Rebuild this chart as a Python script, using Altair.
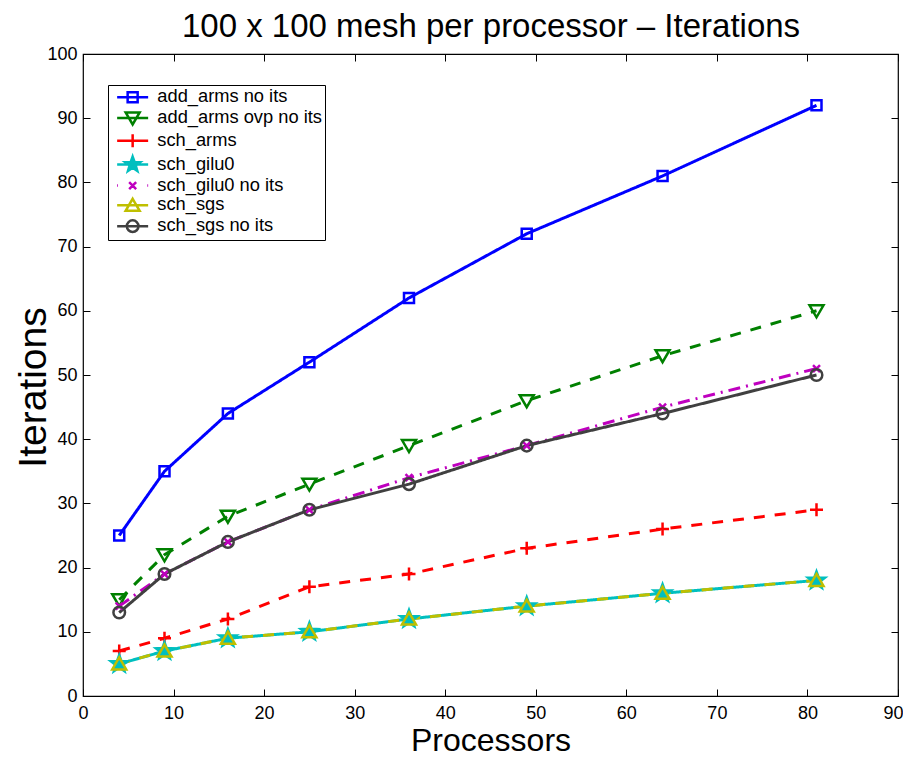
import math
import altair as alt
import pandas as pd

# ---------------- data ----------------
processors = [4, 9, 16, 25, 36, 49, 64, 81]
series_names = ["add_arms no its", "add_arms ovp no its", "sch_arms", "sch_gilu0",
                "sch_gilu0 no its", "sch_sgs", "sch_sgs no its"]
add_arms_no_its = [25, 35, 44, 52, 62, 72, 81, 92]
add_arms_ovp_no_its = [15, 22, 28, 33, 39, 46, 53, 60]
sch_arms = [7, 9, 12, 17, 19, 23, 26, 29]
sch_gilu0 = [5, 7, 9, 10, 12, 14, 16, 18]
sch_gilu0_no_its = [14, 19, 24, 29, 34, 39, 45, 51]
sch_sgs = [5, 7, 9, 10, 12, 14, 16, 18]
sch_sgs_no_its = [13, 19, 24, 29, 33, 39, 44, 50]
x_ticks = [0, 10, 20, 30, 40, 50, 60, 70, 80, 90]
y_ticks = [0, 10, 20, 30, 40, 50, 60, 70, 80, 90, 100]
title_text = "100 x 100 mesh per processor \u2013 Iterations"

series_values = [add_arms_no_its, add_arms_ovp_no_its, sch_arms, sch_gilu0,
                 sch_gilu0_no_its, sch_sgs, sch_sgs_no_its]

# ---------------- styles ----------------
colors = ["#0000FF", "#008000", "#FF0000", "#00BFBF", "#BF00BF", "#BFBF00", "#404040"]
dashes = [[1, 0], [11, 10], [11, 10], [1, 0], [12, 6, 2, 6], [11, 10], [1, 0]]
markers = ["square", "tridown", "plus", "star", "x", "triup", "circle"]
marker_fill = ["transparent", "transparent", "transparent", None, "transparent", "transparent", "transparent"]

W, H = 815, 642
FONT = "Liberation Sans"
U = 7.0                 # px per symbol unit (size 196 -> 14 px box)
POINT_SIZE = 196


def f(v):
    return f"{v:.3f}"


def marker_path(kind, u, star_r=9.0):
    """SVG path of a marker, in symbol unit coordinates (u px per unit)."""
    def p(x, y):
        return f"{f(x / u)},{f(y / u)}"
    if kind == "square":
        s = 5
        return f"M{p(-s,-s)}L{p(s,-s)}L{p(s,s)}L{p(-s,s)}Z"
    if kind == "tridown":
        return f"M{p(-7,-5.5)}L{p(7,-5.5)}L{p(0,6.5)}Z"
    if kind == "triup":
        return f"M{p(0,-6.5)}L{p(7,5.5)}L{p(-7,5.5)}Z"
    if kind == "plus":
        a = 6.5
        return f"M{p(-a,0)}L{p(a,0)}M{p(0,-a)}L{p(0,a)}"
    if kind == "x":
        a = 3.5
        return f"M{p(-a,-a)}L{p(a,a)}M{p(a,-a)}L{p(-a,a)}"
    if kind == "circle":
        r = 5.8 / u
        return f"M{f(r)},0A{f(r)},{f(r)},0,1,1,{f(-r)},0A{f(r)},{f(r)},0,1,1,{f(r)},0Z"
    if kind == "star":
        R, r = star_r, star_r * 0.41
        pts = []
        for i in range(10):
            ang = -math.pi / 2 + i * math.pi / 5
            rad = R if i % 2 == 0 else r
            pts.append(p(rad * math.cos(ang), rad * math.sin(ang)))
        return "M" + "L".join(pts) + "Z"
    return ""


point_paths = [marker_path(m, U) for m in markers]
half = 15.5 / U
legend_paths = []
for m in markers:
    if m == "x":
        line = f"M{f(-half)},0L{f(-half + 0.12)},0M{f(half - 0.12)},0L{f(half)},0"
    else:
        line = f"M{f(-half)},0L{f(half)},0"
    legend_paths.append(line + marker_path(m, U, star_r=8.0))
fills = [c if fl is None else fl for c, fl in zip(colors, marker_fill)]

rows = []
for i, (name, vals) in enumerate(zip(series_names, series_values)):
    for x, y in zip(processors, vals):
        rows.append({"series": name, "processors": x, "iterations": y,
                     "col": colors[i], "dash": dashes[i], "mpath": point_paths[i],
                     "mfill": fills[i]})
df = pd.DataFrame(rows)

xscale = alt.Scale(domain=[0, 90], nice=False, zero=False)
yscale = alt.Scale(domain=[0, 100], nice=False, zero=False)

base = alt.Chart(df)

lines = base.mark_line(strokeWidth=3).encode(
    x=alt.X("processors:Q", scale=xscale,
            axis=alt.Axis(orient="top", offset=-H, values=x_ticks, tickSize=7, tickColor="black",
                          labelPadding=-15, labelBaseline="top", labelFlush=True,
                          labelFlushOffset=5,
                          labelFontSize=18, labelFont=FONT, labelColor="black",
                          title="Processors", titleY=54, titleBaseline="alphabetic",
                          titleFontSize=32, titleFont=FONT, titleFontWeight="normal",
                          titleColor="black", domain=False, grid=False)),
    y=alt.Y("iterations:Q", scale=yscale,
            axis=alt.Axis(orient="right", offset=-W, values=y_ticks, tickSize=7, tickColor="black",
                          labelPadding=-13, labelAlign="right", labelFlush=False,
                          labelFontSize=18, labelFont=FONT, labelColor="black",
                          title="Iterations", titleAngle=270, titleX=-38, titleY=333,
                          titleBaseline="alphabetic", titleAlign="center",
                          titleFontSize=39, titleFont=FONT, titleFontWeight="normal",
                          titleColor="black", domain=False, grid=False)),
    color=alt.Color("col:N", scale=None),
    strokeDash=alt.StrokeDash("dash", scale=None),
    detail="series:N",
    order="processors:Q",
)

points = base.mark_point(strokeWidth=2.5, opacity=1, size=POINT_SIZE).encode(
    x=alt.X("processors:Q", scale=xscale,
            axis=alt.Axis(orient="bottom", offset=-H, values=x_ticks, tickSize=7, tickColor="black",
                          labels=False, domain=False, grid=False,
                          title=title_text, titleY=-18, titleBaseline="alphabetic",
                          titleFontSize=33, titleFont=FONT, titleFontWeight="normal",
                          titleColor="black")),
    y=alt.Y("iterations:Q", scale=yscale,
            axis=alt.Axis(orient="left", offset=-W, values=y_ticks, tickSize=7, tickColor="black",
                          labels=False, title=None, domain=False, grid=False)),
    shape=alt.Shape("mpath:N", scale=None),
    stroke=alt.Stroke("col:N", scale=None),
    fill=alt.Fill("mfill:N", scale=None),
)

legend_layer = base.mark_point(opacity=0, size=POINT_SIZE).encode(
    x=alt.X("processors:Q", scale=xscale, axis=None),
    y=alt.Y("iterations:Q", scale=yscale, axis=None),
    shape=alt.Shape("series:N", title=None,
                    scale=alt.Scale(domain=series_names, range=legend_paths),
                    legend=alt.Legend(orient="none", legendX=25, legendY=31, title=None,
                                      strokeColor="black", fillColor="white", padding=3,
                                      symbolSize=POINT_SIZE, symbolStrokeWidth=2.5,
                                      symbolOffset=12.5, symbolOpacity=1,
                                      labelFontSize=18.3, labelFont=FONT,
                                      labelColor="black", labelOffset=15.5, rowPadding=-1.2,
                                      labelLimit=400)),
    stroke=alt.Stroke("series:N", title=None,
                      scale=alt.Scale(domain=series_names, range=colors)),
    fill=alt.Fill("series:N", title=None,
                  scale=alt.Scale(domain=series_names, range=fills)),
)

chart = alt.layer(lines, points, legend_layer).resolve_axis(
    x="independent", y="independent"
).properties(
    width=W, height=H,
    padding={"left": 75, "top": 46, "right": 5, "bottom": 64},
    autosize=alt.AutoSizeParams(type="none"),
    background="white",
).configure_view(stroke="black", strokeWidth=1.2)

chart.save("out.html", embed_options={"renderer": "svg", "actions": False})
